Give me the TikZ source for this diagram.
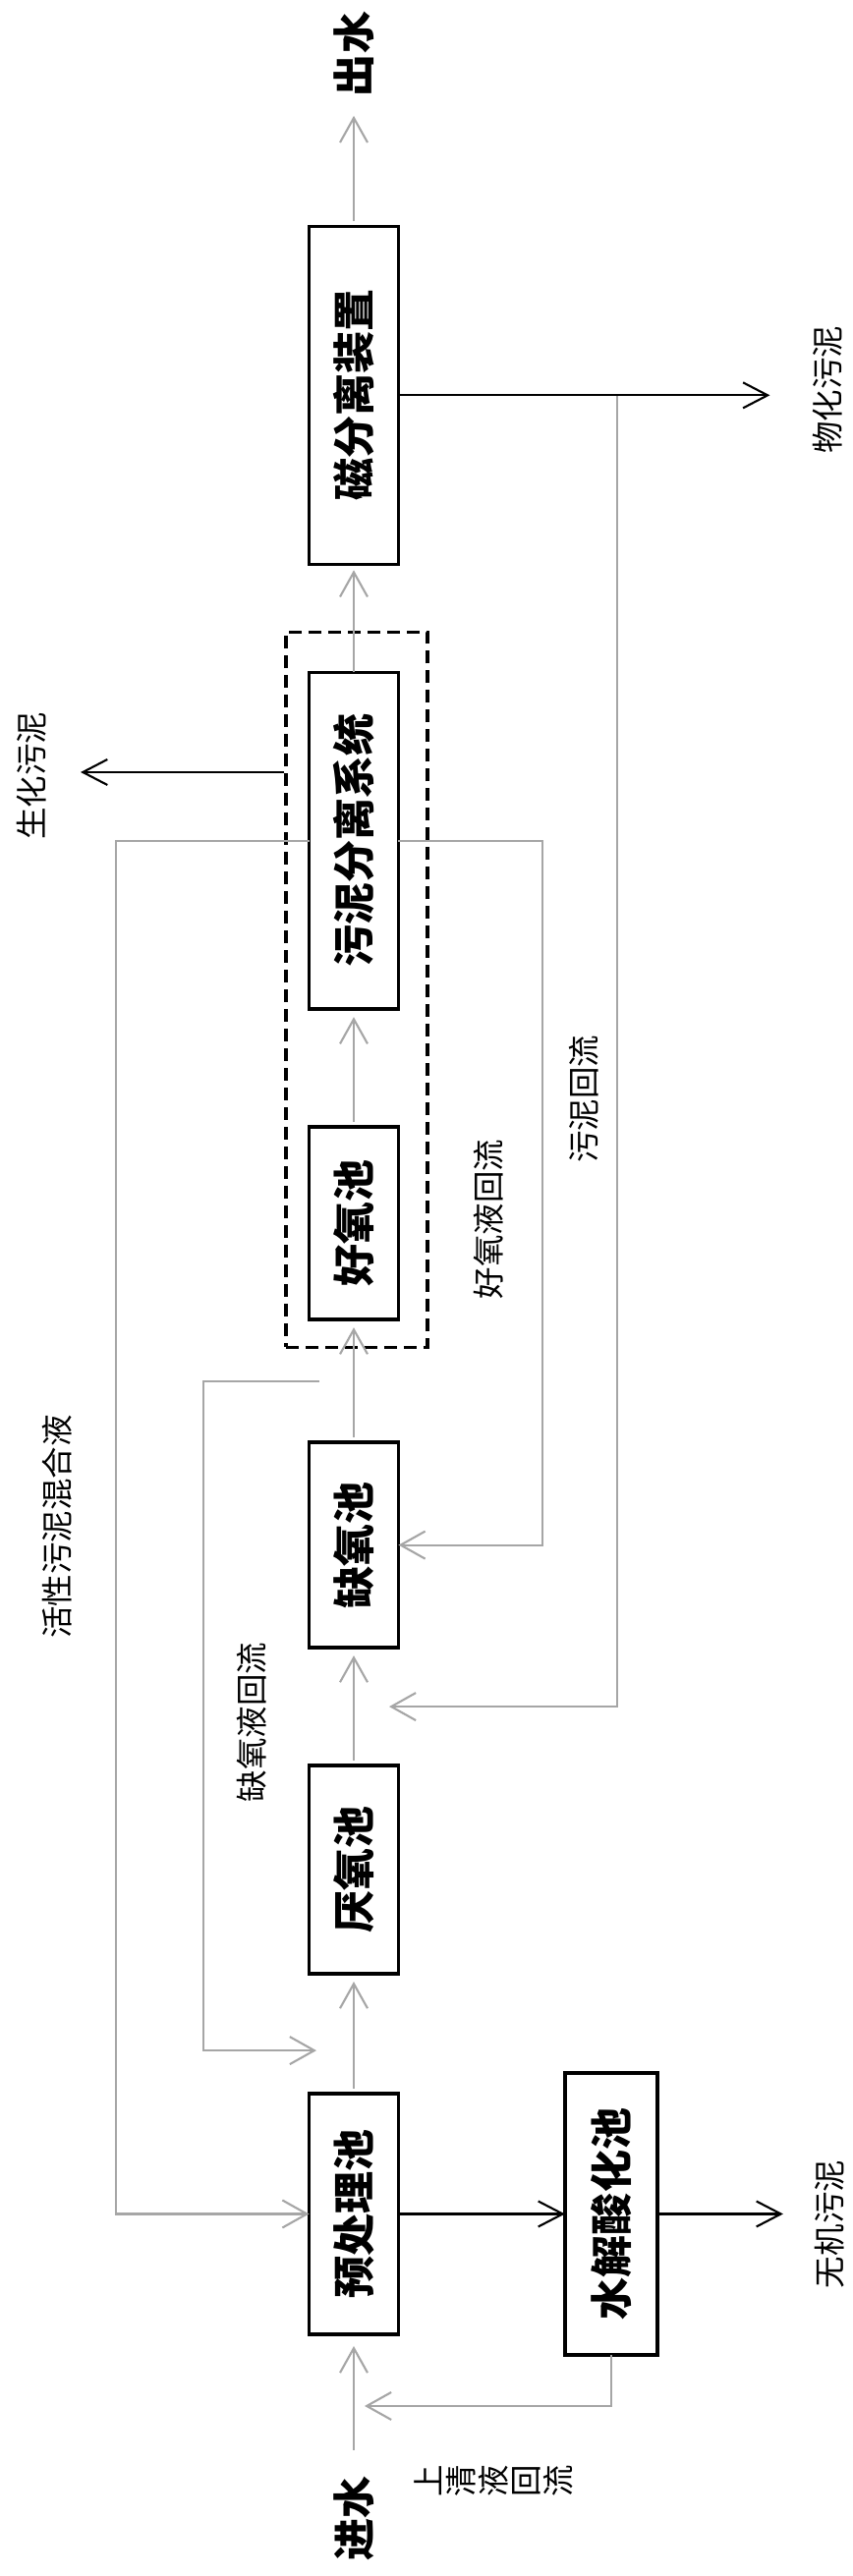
\documentclass[tikz,border=0pt]{standalone}
\usepackage{fontspec}
\setmainfont{Noto Sans CJK SC}
\usepackage{graphicx}
\usepackage{xcolor}
\usetikzlibrary{arrows.meta, positioning, fit, calc}

\definecolor{linegray}{RGB}{166,166,166}
\newcommand{\uptext}[1]{\rotatebox{90}{#1}}

\begin{document}
\begin{tikzpicture}[
  x=0.02cm, y=0.02cm,
  unit/.style={rectangle, draw, line width=2pt, minimum width=1.82cm, outer sep=0pt,
               inner sep=0pt, font=\fontsize{24.5pt}{26pt}\selectfont\bfseries},
  group/.style={rectangle, draw, line width=1.8pt, dash pattern=on 0.26cm off 0.14cm, inner sep=0pt},
  ends/.style={inner sep=0pt, font=\fontsize{24.5pt}{26pt}\selectfont\bfseries},
  note/.style={inner sep=0pt, rotate=90, font=\fontsize{18.5pt}{20pt}\selectfont},
  notecol/.style={inner sep=0pt, rotate=90, align=center, font=\fontsize{18.5pt}{18.8pt}\selectfont},
  fback/.style={draw=linegray, line width=1.2pt, -{Straight Barb[length=0.5cm, width=0.56cm]}},
  mainflow/.style={fback, shorten <=0.1cm, shorten >=0.16cm},
  drain/.style={draw=black, line width=1.2pt, -{Straight Barb[length=0.5cm, width=0.52cm]}}
]
\useasboundingbox (0,0) rectangle (867,2622);

% treatment units, bottom to top
\node[unit, minimum height=4.9cm] (pre) at (360,368.5) {\uptext{预处理池}};
\node[unit, minimum height=4.24cm, above=2.44cm of pre] (ana) {\uptext{厌氧池}};
\node[unit, minimum height=4.18cm, above=2.4cm of ana] (anox) {\uptext{缺氧池}};
\node[unit, minimum height=3.92cm, above=2.5cm of anox] (aer) {\uptext{好氧池}};
\node[unit, minimum height=6.86cm, above=2.4cm of aer] (sep) {\uptext{污泥分离系统}};
\node[unit, minimum height=6.88cm, above=2.2cm of sep] (mag) {\uptext{磁分离装置}};
\node[unit, minimum width=1.88cm, minimum height=5.74cm, right=3.39cm of pre] (hyd) {\uptext{水解酸化池}};
\node[group, fit=(aer)(sep), inner xsep=0.53cm, inner ysep=0.69cm, xshift=0.06cm, yshift=0.13cm] (bio) {};

\node[ends] (inw) at (360,59) {\uptext{进水}};
\node[ends] (outw) at (360,2567) {\uptext{出水}};

% labels
\node[note] (mixlab) at (58,1068) {活性污泥混合液};
\node[note] (anlab) at (256,869) {缺氧液回流};
\node[note] (aelab) at (497,1381) {好氧液回流};
\node[note] (sllab) at (594,1503) {污泥回流};
\node[note] (biolab) at (32,1832) {生化污泥};
\node[note] (phylab) at (842,2225) {物化污泥};
\node[note] (inolab) at (844,358) {无机污泥};
\node[notecol] (suplab) at (502,97) {上\\清\\液\\回\\流};

% free ends
\coordinate (an0) at ($(anox.north)!0.5!(aer.south)+(-35,0)$);
\coordinate (an1) at ($(pre.north)!0.36!(ana.south)+(-38,0)$);
\coordinate (sl1) at ($(ana.north)!0.5!(anox.south)+(36,0)$);
\coordinate (sq1) at ($(pre.south)+(11,-73)$);
\coordinate[right=7.56cm of mag.east] (phy);
\coordinate[right=2.56cm of hyd.east] (ino);
\coordinate (biot) at (82,1836);
\coordinate (jn) at (628,0);

% main line
\draw[mainflow, shorten <=0.52cm, shorten >=0.24cm] (inw) -- (pre);
\draw[mainflow] (pre) -- (ana);
\draw[mainflow] (ana) -- (anox);
\draw[mainflow] (anox) -- (aer);
\draw[mainflow] (aer) -- (sep);
\draw[fback, shorten >=0.12cm] (sep) -- (mag);
\draw[mainflow, shorten >=0.39cm] (mag) -- (outw);

% returns
\draw[fback] (hyd.south) |- (sq1);
\draw[fback] (sep.west) -- ++(-196.5,0) |- (pre.west);
\draw[fback] (sep.east) -- ++(146.5,0) |- (anox.east);
\draw[fback] (an0) -- ++(-118,0) |- (an1);
\draw[fback] (mag.east -| jn) |- (sl1);

% sludge out
\draw[drain] (pre) -- (hyd);
\draw[drain] (hyd.east) -- (ino);
\draw[drain] (mag.east) -- (phy);
\draw[drain] (biot -| bio.west) -- (biot);

\end{tikzpicture}
\end{document}
